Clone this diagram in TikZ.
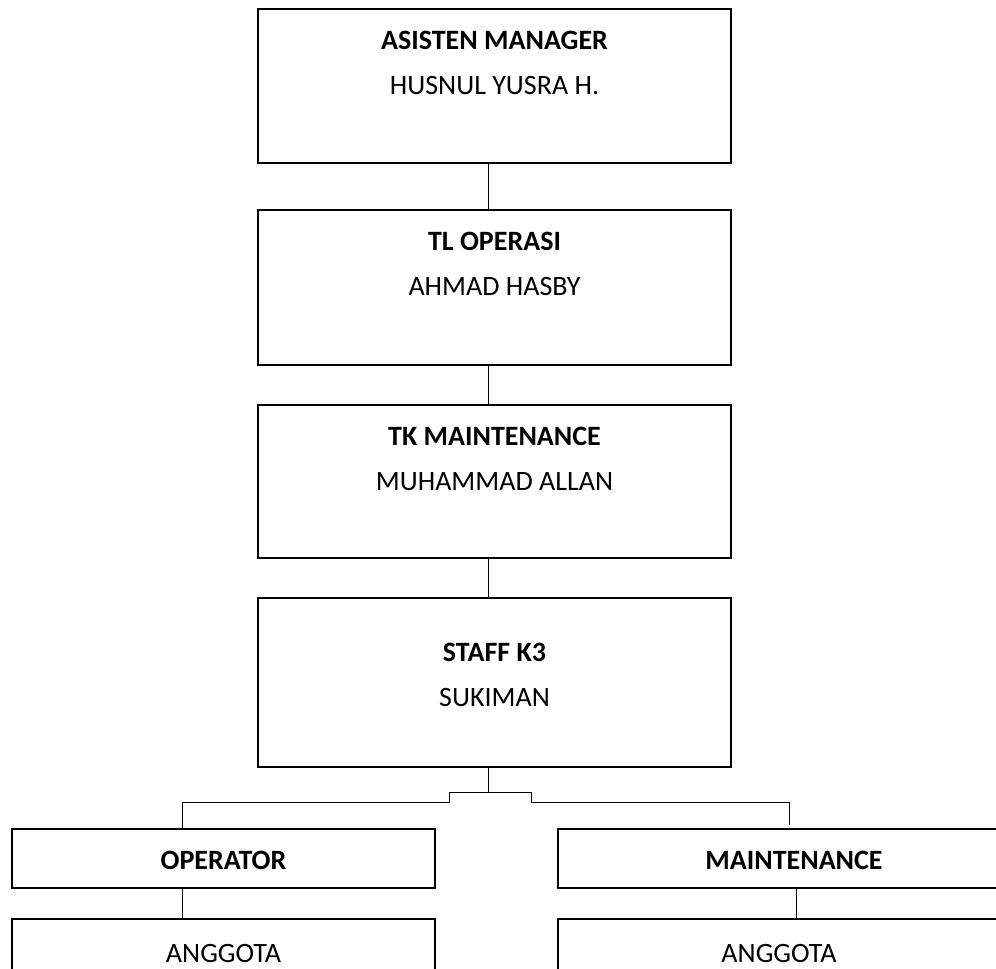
\documentclass[tikz,border=0pt]{standalone}
\usepackage{fontspec}
\setmainfont{Carlito}
\usepackage{tikz}
\usetikzlibrary{calc}
\def\postfont{\fontsize{28}{34}\selectfont}
\def\drawlink{\draw[line width=1pt]}
\def\posbox{\node[draw=black, line width=2pt, inner sep=0pt]}
\def\titlenode{\node[anchor=base, inner sep=0pt, font=\postfont\bfseries]}
\def\namenode{\node[anchor=base, inner sep=0pt, font=\postfont]}

\begin{document}
\begin{tikzpicture}[x=1pt,y=-1pt]
\useasboundingbox (0,0) rectangle (996,969);
\clip (0,0) rectangle (996,969);
\coordinate (spine) at (488,0);

% -------- the chain of posts ---------
\posbox[minimum width=473pt, minimum height=154pt] (am) at (494.5,86) {};
\titlenode (amt) at ($ (am.north) + (0,41) $) {ASISTEN MANAGER};
\namenode (amn) at ($ (am.north) + (0,86) $) {HUSNUL YUSRA H.};

\posbox[minimum width=473pt, minimum height=155pt] (tl) at (494.5,287.5) {};
\titlenode (tlt) at ($ (tl.north) + (0,41) $) {TL OPERASI};
\namenode (tln) at ($ (tl.north) + (0,86) $) {AHMAD HASBY};

\posbox[minimum width=473pt, minimum height=153pt] (tk) at (494.5,481.5) {};
\titlenode (tkt) at ($ (tk.north) + (0,41) $) {TK MAINTENANCE};
\namenode (tkn) at ($ (tk.north) + (0,86) $) {MUHAMMAD ALLAN};

\posbox[minimum width=473pt, minimum height=169pt] (k3) at (494.5,682.5) {};
\titlenode (k3t) at ($ (k3.north) + (0,64) $) {STAFF K3};
\namenode (k3n) at ($ (k3.north) + (0,109) $) {SUKIMAN};

\drawlink (am.south -| spine) -- (tl.north -| spine);
\drawlink (tl.south -| spine) -- (tk.north -| spine);
\drawlink (tk.south -| spine) -- (k3.north -| spine);

% -------- the two teams ---------
\posbox[minimum width=423pt, minimum height=59pt] (op) at (223.5,858.5) {};
\titlenode (opt) at ($ (op.north) + (0,41) $) {OPERATOR};
\posbox[minimum width=472pt, minimum height=59pt] (mt) at (794,858.5) {};
\titlenode (mtt) at ($ (mt.north) + (0,41) $) {MAINTENANCE};
\posbox[minimum width=423pt, minimum height=120pt] (ag1) at (223.5,979) {};
\namenode (ag1n) at ($ (ag1.north) + (0,44) $) {ANGGOTA};
\posbox[minimum width=442pt, minimum height=120pt] (ag2) at (779,979) {};
\namenode (ag2n) at ($ (ag2.north) + (0,44) $) {ANGGOTA};

% branch under the staff box
\coordinate (fork) at ($ (k3.south -| spine) + (0,24) $);
\coordinate (stepl) at (449,0);
\coordinate (stepr) at (531,0);
\coordinate (dropl) at (182,0);
\coordinate (dropr) at (789,0);
\drawlink (k3.south -| spine) -- (fork) -- (fork -| stepl) -- ++(0,10) coordinate (kneel)
  -- (kneel -| dropl) -- (op.north -| dropl);
\drawlink (fork) -- (fork -| stepr) -- ++(0,10) coordinate (kneer)
  -- (kneer -| dropr) -- ($ (mt.north -| dropr) + (0,-3) $);
\drawlink (op.south -| dropl) -- (ag1.north -| dropl);
\drawlink ($ (mt.south) + (2,0) $) -- ($ (mt.south |- ag2.north) + (2,0) $);
\end{tikzpicture}
\end{document}
